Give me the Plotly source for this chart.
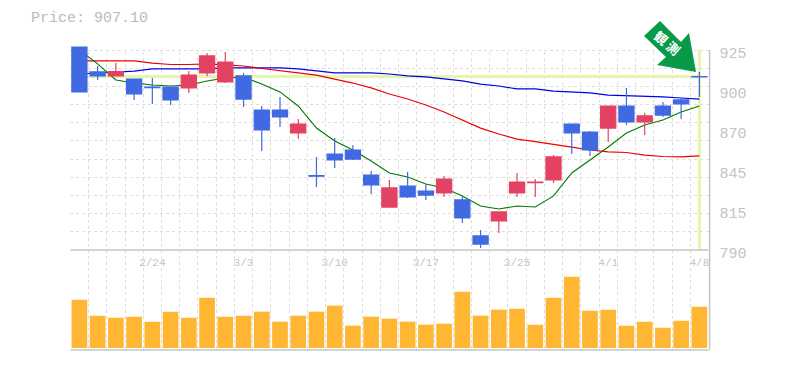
import plotly.graph_objects as go

dates = ["2/18","2/19","2/20","2/21","2/24","2/25","2/26","2/27","2/28","3/3","3/4","3/5","3/6","3/7",
         "3/10","3/11","3/12","3/13","3/14","3/17","3/18","3/19","3/21","3/24","3/25","3/26","3/27",
         "3/28","3/31","4/1","4/2","4/3","4/4","4/7","4/8"]
opens = [896.7,907.5,910.4,895.3,899.6,891.3,908.1,921.0,916.9,891.9,871.0,879.8,875.0,839.8,
         850.8,851.4,833.9,831.9,825.8,827.1,837.9,811.6,794.0,815.7,835.9,835.9,852.8,
         869.0,857.5,887.2,876.4,880.5,881.1,888.6,906.8]
highs = [927.0,914.2,916.2,905.4,906.1,900.0,910.8,923.0,923.7,909.5,887.2,893.3,878.4,852.8,
         865.6,860.9,843.3,837.3,842.7,834.5,840.0,826.5,803.5,815.7,842.0,837.9,854.1,
         875.0,870.3,887.2,899.4,882.5,889.9,892.6,910.2]
lows = [896.7,904.8,907.5,891.3,888.6,887.9,896.0,907.5,902.7,886.5,856.8,873.0,864.9,832.5,
        845.3,850.8,827.8,819.0,825.1,823.8,825.8,808.2,791.3,801.5,825.8,825.8,835.2,
        854.8,853.5,862.9,874.4,867.6,879.8,878.4,893.3]
closes = [927.0,910.2,907.5,905.4,900.0,900.0,899.4,909.5,903.4,907.5,884.5,884.5,869.0,840.2,
          854.8,857.5,840.6,819.0,833.2,829.8,828.5,823.8,799.5,809.6,828.5,835.5,837.3,
          875.0,869.6,872.3,887.2,876.4,887.2,891.3,907.1]
ma_short = [925.0,915.6,904.8,902.7,901.4,900.7,901.4,904.1,906.1,906.8,902.0,896.7,887.2,872.3,
            863.6,857.5,850.1,842.0,839.3,834.6,831.9,826.5,819.7,817.7,819.7,819.0,826.5,
            842.0,850.8,859.5,869.0,874.4,877.8,883.2,887.2]
ma_mid = [917.6,917.6,917.6,917.6,916.2,915.2,915.2,915.6,914.9,914.2,912.5,911.2,909.5,908.1,
          905.4,902.7,899.4,895.3,891.9,887.9,883.2,877.8,872.3,868.3,864.9,863.2,861.5,
          859.5,857.5,856.2,855.8,854.1,853.1,852.8,853.5]
ma_long = [908.8,909.5,910.2,910.8,912.2,912.2,912.2,912.2,912.9,912.9,912.9,912.9,912.2,910.8,
           909.5,909.5,909.5,908.8,907.5,906.8,905.4,904.1,902.0,900.7,898.7,898.7,897.3,
           896.7,896.0,894.6,894.3,893.9,893.3,892.6,891.9]
volumes = [145,97,91,94,79,109,91,151,94,97,109,79,97,109,127,67,94,88,79,70,73,169,97,115,118,70,
           151,214,112,115,67,79,61,82,124]
last_price = 907.10
price_ticks = [925,898,871,844,817,790]
price_labels = ["925","900","870","845","815","790"]
date_ticks = [4,9,14,19,24,29,34]

xs = list(range(len(dates)))
W, H = 785, 370
GRAY = "#c4c4c4"
GRID = "#dddddd"
X_RANGE = [-0.5, 34.5]
Y_RANGE = [790, 927.7]
x_dom = [70.3/W, 708.5/W]
y_dom = [(H-250)/H, (H-46)/H]
v_dom = [(H-350)/H, (H-250)/H]
FONT = "Liberation Mono"
x_minor = [i-0.5 for i in range(36)]
y_step = 135/11
y_minor = [790+y_step*i for i in range(12)]

fig = go.Figure()
for vals, col, w in [(ma_long,"#0000ee",1.2),(ma_mid,"#ee0000",1.2),(ma_short,"#007700",1.1)]:
    fig.add_trace(go.Scatter(x=xs, y=vals, mode="lines", line=dict(color=col, width=w),
                             xaxis="x", yaxis="y", showlegend=False, hoverinfo="skip"))
fig.add_trace(go.Candlestick(x=xs, open=opens, high=highs, low=lows, close=closes,
    increasing=dict(line=dict(color="#4169e1", width=1.2), fillcolor="#4169e1"),
    decreasing=dict(line=dict(color="#e34262", width=1.2), fillcolor="#e34262"),
    whiskerwidth=0, xaxis="x3", yaxis="y3", showlegend=False))
fig.add_trace(go.Bar(x=xs, y=volumes, width=0.86, marker=dict(color="#ffb733", line=dict(width=0)),
                     xaxis="x2", yaxis="y2", showlegend=False, hoverinfo="skip"))

fig.update_layout(
    template="none",
    width=W, height=H, autosize=False, margin=dict(l=0,r=0,t=0,b=0,pad=0),
    paper_bgcolor="white", plot_bgcolor="white", boxgap=0.17, boxgroupgap=0, hovermode=False,
    font=dict(family=FONT, color=GRAY),
    xaxis=dict(domain=x_dom, range=X_RANGE, anchor="y", tickvals=date_ticks, automargin=False,
               ticktext=[dates[i] for i in date_ticks], ticks="", showgrid=False, zeroline=False, showline=False,
               tickfont=dict(family=FONT, size=11, color=GRAY), ticklabelstandoff=4,
               rangeslider=dict(visible=False),
               minor=dict(tickvals=x_minor, showgrid=True, gridcolor=GRID, griddash="3px,3px", gridwidth=1, ticks="")),
    yaxis=dict(domain=y_dom, range=Y_RANGE, anchor="x", side="right", tickvals=price_ticks, automargin=False,
               ticktext=price_labels, ticks="", showgrid=False, zeroline=False, showline=False,
               tickfont=dict(family=FONT, size=15, color=GRAY), ticklabelstandoff=10, ticklabelshift=3,
               minor=dict(tickvals=y_minor, showgrid=True, gridcolor=GRID, griddash="3px,3px", gridwidth=1, ticks="")),
    xaxis2=dict(domain=x_dom, range=X_RANGE, anchor="y2", showticklabels=False, ticks="", showgrid=False, zeroline=False,
                automargin=False, showline=False,
                minor=dict(tickvals=x_minor, showgrid=True, gridcolor=GRID, griddash="3px,3px", gridwidth=1, ticks="")),
    yaxis2=dict(domain=v_dom, range=[-6,294], anchor="x2", showticklabels=False, ticks="", showgrid=False, zeroline=False,
                automargin=False, showline=False),
    xaxis3=dict(domain=x_dom, range=X_RANGE, overlaying="x", anchor="y3", visible=False, rangeslider=dict(visible=False)),
    yaxis3=dict(domain=y_dom, range=Y_RANGE, overlaying="y", anchor="x3", visible=False),
    shapes=[
        dict(type="rect", xref="x", yref="y", x0=-0.6, x1=34.6, y0=925, y1=927.7, fillcolor="white",
             line=dict(width=0), layer="between"),
        dict(type="line", xref="x", yref="y", x0=-0.5, x1=34, y0=last_price, y1=last_price,
             line=dict(color="#e5f5ac", width=3), layer="between"),
        dict(type="line", xref="x", yref="y", x0=34, x1=34, y0=790, y1=925,
             line=dict(color="#e5f5ac", width=3), layer="between"),
        dict(type="line", xref="x", yref="paper", x0=-0.5, x1=34.6, y0=v_dom[1], y1=v_dom[1],
             line=dict(color=GRAY, width=1.5)),
        dict(type="line", xref="x", yref="paper", x0=-0.5, x1=34.6, y0=v_dom[0], y1=v_dom[0],
             line=dict(color=GRAY, width=1.5)),
        dict(type="line", xref="paper", yref="paper", x0=709.6/W, x1=709.6/W, y0=v_dom[0], y1=(H-50)/H,
             line=dict(color=GRAY, width=1.5)),
        dict(type="path", xref="paper", yref="paper", fillcolor="#079a48", line=dict(width=0),
             path="M {} {} L {} {} L {} {} L {} {} L {} {} L {} {} L {} {} Z".format(
                 *[v for p in [(660,21),(681,42),(689,33),(696,72),(657,65),(666,57),(644,36)]
                   for v in (p[0]/W, (H-p[1])/H)])),
    ],
    annotations=[
        dict(text="Price: {:.2f}".format(last_price), xref="paper", yref="paper", x=29/W, y=(H-18.5)/H,
             xanchor="left", yanchor="middle", showarrow=False, font=dict(family=FONT, size=15, color="#bbbbbb")),
        dict(text="<b>観 測</b>", xref="paper", yref="paper", x=667/W, y=(H-42.5)/H, textangle=40, xanchor="center", yanchor="middle",
             showarrow=False, font=dict(family="Noto Sans CJK JP", size=13, color="white")),
    ],
)
fig.write_html("out.html", post_script="document.body.style.margin='0';", config={"displayModeBar": False})
